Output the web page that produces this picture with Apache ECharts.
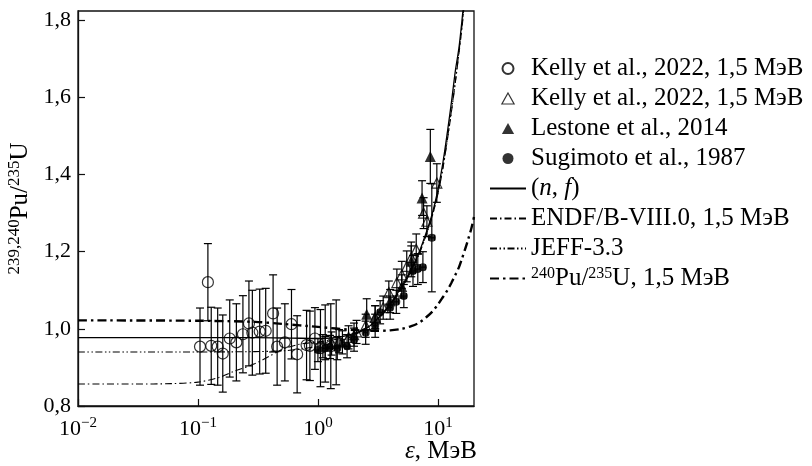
<!DOCTYPE html>
<html><head><meta charset="utf-8">
<script src="https://cdn.jsdelivr.net/npm/echarts@6/dist/echarts.min.js"></script>
<style>html,body{margin:0;padding:0;background:#fff}#c{width:812px;height:466px}</style>
</head><body><div id="c"></div>
<script>
// ---- data ----
const legendNames = ['Kelly et al., 2022, 1,5 МэВ', 'Kelly et al., 2022, 1,5 МэВ ', 'Lestone et al., 2014', 'Sugimoto et al., 1987', '(n, f)', 'ENDF/B-VIII.0, 1,5 МэВ', 'JEFF-3.3', '240Pu/235U, 1,5 МэВ'];
const yTicks = [0.8, 1.0, 1.2, 1.4, 1.6, 1.8];
const xTicks = [0.01, 0.1, 1, 10];

// Kelly 2022 (open circles): x, y, y-error
const kcX = [0.104,0.121,0.129,0.146,0.161,0.184,0.209,0.237,0.266,0.284,0.327,0.367,0.423,0.457,0.530,0.602,0.671,0.804,0.857,0.944,1.05,1.15,1.28,1.42];
const kcY = [0.954,1.121,0.956,0.954,0.936,0.975,0.965,0.986,1.014,0.990,0.993,0.995,1.040,0.954,0.965,1.012,0.934,0.958,0.956,0.975,0.950,0.962,0.955,0.965];
const kcE = [0.10,0.10,0.10,0.10,0.10,0.10,0.10,0.10,0.11,0.11,0.11,0.11,0.10,0.10,0.10,0.09,0.10,0.09,0.09,0.08,0.10,0.10,0.11,0.11];

// Kelly 2022 (open triangles)
const ktX = [1.1,1.3,1.5,1.8,2.1,2.5,3.0,3.5,3.9,4.55,5.0,5.5,6.0,6.6,7.6,8.1,9.8];
const ktY = [0.955,0.962,0.968,0.978,0.992,1.008,1.030,1.055,1.094,1.120,1.140,1.162,1.185,1.206,1.300,1.279,1.378];
const ktE = [0.03,0.03,0.03,0.03,0.03,0.03,0.03,0.03,0.03,0.035,0.035,0.04,0.04,0.04,0.04,0.04,0.05];

// Lestone 2014 (filled triangles)
const lsX = [1.6,2.0,2.55,3.0,4.0,5.0,6.0,7.38,8.65];
const lsY = [0.965,0.985,1.038,1.030,1.072,1.110,1.175,1.339,1.447];
const lsE = [0.03,0.03,0.04,0.03,0.03,0.03,0.04,0.045,0.07];

// Sugimoto 1987 (filled circles): x, y, y-error, x-error
const sgX = [1.0,1.15,1.26,1.45,1.75,2.0,2.5,3.0,3.3,4.0,4.5,5.2,6.2,6.8,7.5,8.9];
const sgY = [0.945,0.950,0.953,0.950,0.955,0.972,0.990,1.008,1.043,1.055,1.070,1.085,1.150,1.155,1.160,1.236];
const sgE = [0.03,0.03,0.03,0.03,0.03,0.03,0.03,0.03,0.03,0.03,0.03,0.03,0.04,0.04,0.04,0.14];
const sgXE = [0.05,0.05,0.06,0.07,0.08,0.1,0.1,0.12,0.15,0.15,0.2,0.25,0.3,0.3,0.35,0.5];

// (n, f) solid curve
const nfX = [0.01,0.03,0.1,0.3,0.6,1,1.5,2,2.5,3,4,5,6,7,8,9,10,11,12,13,14,15,16,17];
const nfY = [0.977,0.977,0.977,0.977,0.976,0.975,0.978,0.988,1.0,1.02,1.065,1.11,1.155,1.2,1.25,1.30,1.36,1.43,1.51,1.59,1.67,1.73,1.81,1.89];

// ENDF/B-VIII.0
const enX = [0.01,0.03,0.06,0.1,0.15,0.2,0.3,0.4,0.5,0.7,1,1.5,2,3,4,5,6,7,8,9,10,11,12,13,14,15,16,17];
const enY = [0.857,0.857,0.858,0.862,0.874,0.89,0.91,0.93,0.946,0.96,0.966,0.974,0.986,1.02,1.062,1.106,1.15,1.195,1.243,1.293,1.35,1.415,1.49,1.565,1.64,1.715,1.79,1.87];

// JEFF-3.3
const jfX = [0.01,0.1,0.3,0.5,0.7,1,1.5,2,3,4,5,6,7,8,9,10,11,12,13,14,15,16,17];
const jfY = [0.940,0.940,0.941,0.943,0.947,0.955,0.968,0.983,1.018,1.062,1.107,1.152,1.197,1.245,1.295,1.352,1.418,1.493,1.568,1.643,1.72,1.795,1.875];

// 240Pu/235U thick dash-dot
const puX = [0.01,0.1,0.3,0.5,1,2,3,4,5,6,7,8,9,10,11,12,13,14,15,16,17,18,19,20];
const puY = [1.022,1.021,1.018,1.013,1.005,0.997,0.995,0.996,1.0,1.007,1.016,1.03,1.045,1.063,1.082,1.10,1.12,1.14,1.16,1.185,1.21,1.235,1.26,1.29];

// ---- build ----
const zip = (a, b) => a.map((v, i) => [v, b[i]]);
const FONT = 'Liberation Serif';
const black = '#000';

function ebRender(params, api) {
  const x = api.value(0), y = api.value(1), e = api.value(2), xe = api.value(3) || 0;
  const top = api.coord([x, y + e]), bot = api.coord([x, y - e]);
  const cap = 4;
  const st = {stroke: black, lineWidth: 1.2};
  const ch = [
    {type: 'line', shape: {x1: top[0], y1: top[1], x2: bot[0], y2: bot[1]}, style: st},
    {type: 'line', shape: {x1: top[0]-cap, y1: top[1], x2: top[0]+cap, y2: top[1]}, style: st},
    {type: 'line', shape: {x1: bot[0]-cap, y1: bot[1], x2: bot[0]+cap, y2: bot[1]}, style: st}
  ];
  if (xe > 0) {
    const l = api.coord([x - xe, y]), r = api.coord([x + xe, y]);
    ch.push({type: 'line', shape: {x1: l[0], y1: l[1], x2: r[0], y2: r[1]}, style: st});
    ch.push({type: 'line', shape: {x1: l[0], y1: l[1]-3, x2: l[0], y2: l[1]+3}, style: st});
    ch.push({type: 'line', shape: {x1: r[0], y1: r[1]-3, x2: r[0], y2: r[1]+3}, style: st});
  }
  return {type: 'group', children: ch};
}
function errSeries(name, xs, ys, es, xes) {
  return {
    name: name, type: 'custom', renderItem: ebRender, z: 2, silent: true,
    encode: {x: 0, y: 1},
    data: xs.map((v, i) => [v, ys[i], es[i], xes ? xes[i] : 0])
  };
}
const supRich = {
  sup: {fontFamily: FONT, fontSize: 16, verticalAlign: 'top', color: black},
  it: {fontFamily: FONT, fontStyle: 'italic', fontSize: 25, color: black}
};
const legendFmt = {
  '(n, f)': '({it|n}, {it|f})',
  '240Pu/235U, 1,5 МэВ': '{sup|240}Pu/{sup|235}U, 1,5 МэВ'
};
const hideSym = {opacity: 0};
const triIcon = 'path://M5,0L10,9L0,9Z';
const legendData = [
  {name: legendNames[0]},
  {name: legendNames[1], icon: triIcon, itemStyle: {color: 'rgba(255,255,255,0)', borderColor: black, borderWidth: 1.2}},
  {name: legendNames[2], icon: triIcon, itemStyle: {color: black, borderWidth: 0}},
  {name: legendNames[3]},
  {name: legendNames[4], itemStyle: hideSym},
  {name: legendNames[5], itemStyle: hideSym},
  {name: legendNames[6], itemStyle: hideSym},
  {name: legendNames[7], itemStyle: hideSym}
];

const chart = echarts.init(document.getElementById('c'), null, {renderer: 'canvas'});
chart.setOption({
  animation: false,
  backgroundColor: '#fff',
  grid: {left: 78, right: 338, top: 11, bottom: 60, show: true, borderColor: '#111', borderWidth: 1.3, backgroundColor: 'transparent'},
  legend: {
    data: legendData, orient: 'vertical', left: 484, top: 51, itemWidth: 36, itemHeight: 11, itemGap: 5,
    selectedMode: false, symbolKeepAspect: true,
    textStyle: {fontFamily: FONT, fontSize: 25, color: black, lineHeight: 25, rich: supRich},
    formatter: n => legendFmt[n] || n
  },
  graphic: [{
    type: 'text', right: 335, top: 439, z: 10,
    style: {text: '{it|ε}, МэВ', fontFamily: FONT, fontSize: 25, fill: black,
      rich: {it: {fontFamily: FONT, fontStyle: 'italic', fontSize: 25, fill: black, color: black}}}
  }],
  xAxis: {
    type: 'log', logBase: 10, min: 0.01, max: 20,
    axisLine: {lineStyle: {color: '#111', width: 1.3}},
    axisTick: {inside: true, length: 7, lineStyle: {color: '#111', width: 1.2}},
    splitLine: {show: false},
    axisLabel: {
      margin: 10, showMaxLabel: false, color: black, fontFamily: FONT, fontSize: 22, lineHeight: 26,
      formatter: v => {
        const e = Math.round(Math.log10(v));
        return xTicks.some(t => Math.abs(t - v) / t < 1e-6) ? '10{sup|' + (e < 0 ? '\u2212' + (-e) : e) + '}' : '';
      },
      rich: {sup: {fontFamily: FONT, fontSize: 15, verticalAlign: 'top', color: black}}
    }
  },
  yAxis: {
    type: 'value', min: 0.8, max: 1.824, interval: 0.2,
    axisLine: {show: true, lineStyle: {color: '#111', width: 1.3}},
    axisTick: {inside: true, length: 7, lineStyle: {color: '#111', width: 1.2}},
    splitLine: {show: false},
    axisLabel: {
      margin: 7, showMaxLabel: false, color: black, fontFamily: FONT, fontSize: 22,
      formatter: v => yTicks.some(t => Math.abs(t - v) < 1e-6) ? v.toFixed(1).replace('.', ',') : ''
    },
    name: '{sup|239,240}Pu/{sup|235}U', nameLocation: 'middle', nameRotate: 90, nameGap: 44,
    nameTextStyle: {fontFamily: FONT, fontSize: 25, color: black, lineHeight: 28,
      rich: {sup: {fontFamily: FONT, fontSize: 17, verticalAlign: 'top', color: black}}}
  },
  series: [
    errSeries('eb1', kcX, kcY, kcE),
    errSeries('eb2', ktX, ktY, ktE),
    errSeries('eb3', lsX, lsY, lsE),
    errSeries('eb4', sgX, sgY, sgE, sgXE),
    {name: legendNames[4], type: 'line', data: zip(nfX, nfY), smooth: 0.3, showSymbol: false, symbol: 'none', z: 3,
      lineStyle: {color: black, width: 1.3}},
    {name: legendNames[5], type: 'line', data: zip(enX, enY), smooth: 0.3, showSymbol: false, symbol: 'none', z: 3,
      lineStyle: {color: black, width: 1.1, type: [7, 3, 1.5, 3]}},
    {name: legendNames[6], type: 'line', data: zip(jfX, jfY), smooth: 0.3, showSymbol: false, symbol: 'none', z: 3,
      lineStyle: {color: black, width: 1.1, type: [7, 2.5, 1.5, 2.5, 1.5, 2.5]}},
    {name: legendNames[7], type: 'line', data: zip(puX, puY), smooth: 0.3, showSymbol: false, symbol: 'none', z: 3,
      lineStyle: {color: black, width: 2.4, type: [9, 4, 2.5, 4]}},
    {name: legendNames[0], type: 'scatter', data: zip(kcX, kcY), symbol: 'circle', symbolSize: 11, z: 4,
      itemStyle: {color: 'rgba(255,255,255,0)', borderColor: black, borderWidth: 1.2}},
    {name: legendNames[1], type: 'scatter', data: zip(ktX, ktY), symbol: 'triangle', symbolSize: 10, z: 4,
      itemStyle: {color: 'rgba(255,255,255,0)', borderColor: black, borderWidth: 1.2}},
    {name: legendNames[2], type: 'scatter', data: zip(lsX, lsY), symbol: 'triangle', symbolSize: 11, z: 4,
      itemStyle: {color: black}},
    {name: legendNames[3], type: 'scatter', data: zip(sgX, sgY), symbol: 'circle', symbolSize: 8, z: 4,
      itemStyle: {color: black}}
  ]
});
</script></body></html>
